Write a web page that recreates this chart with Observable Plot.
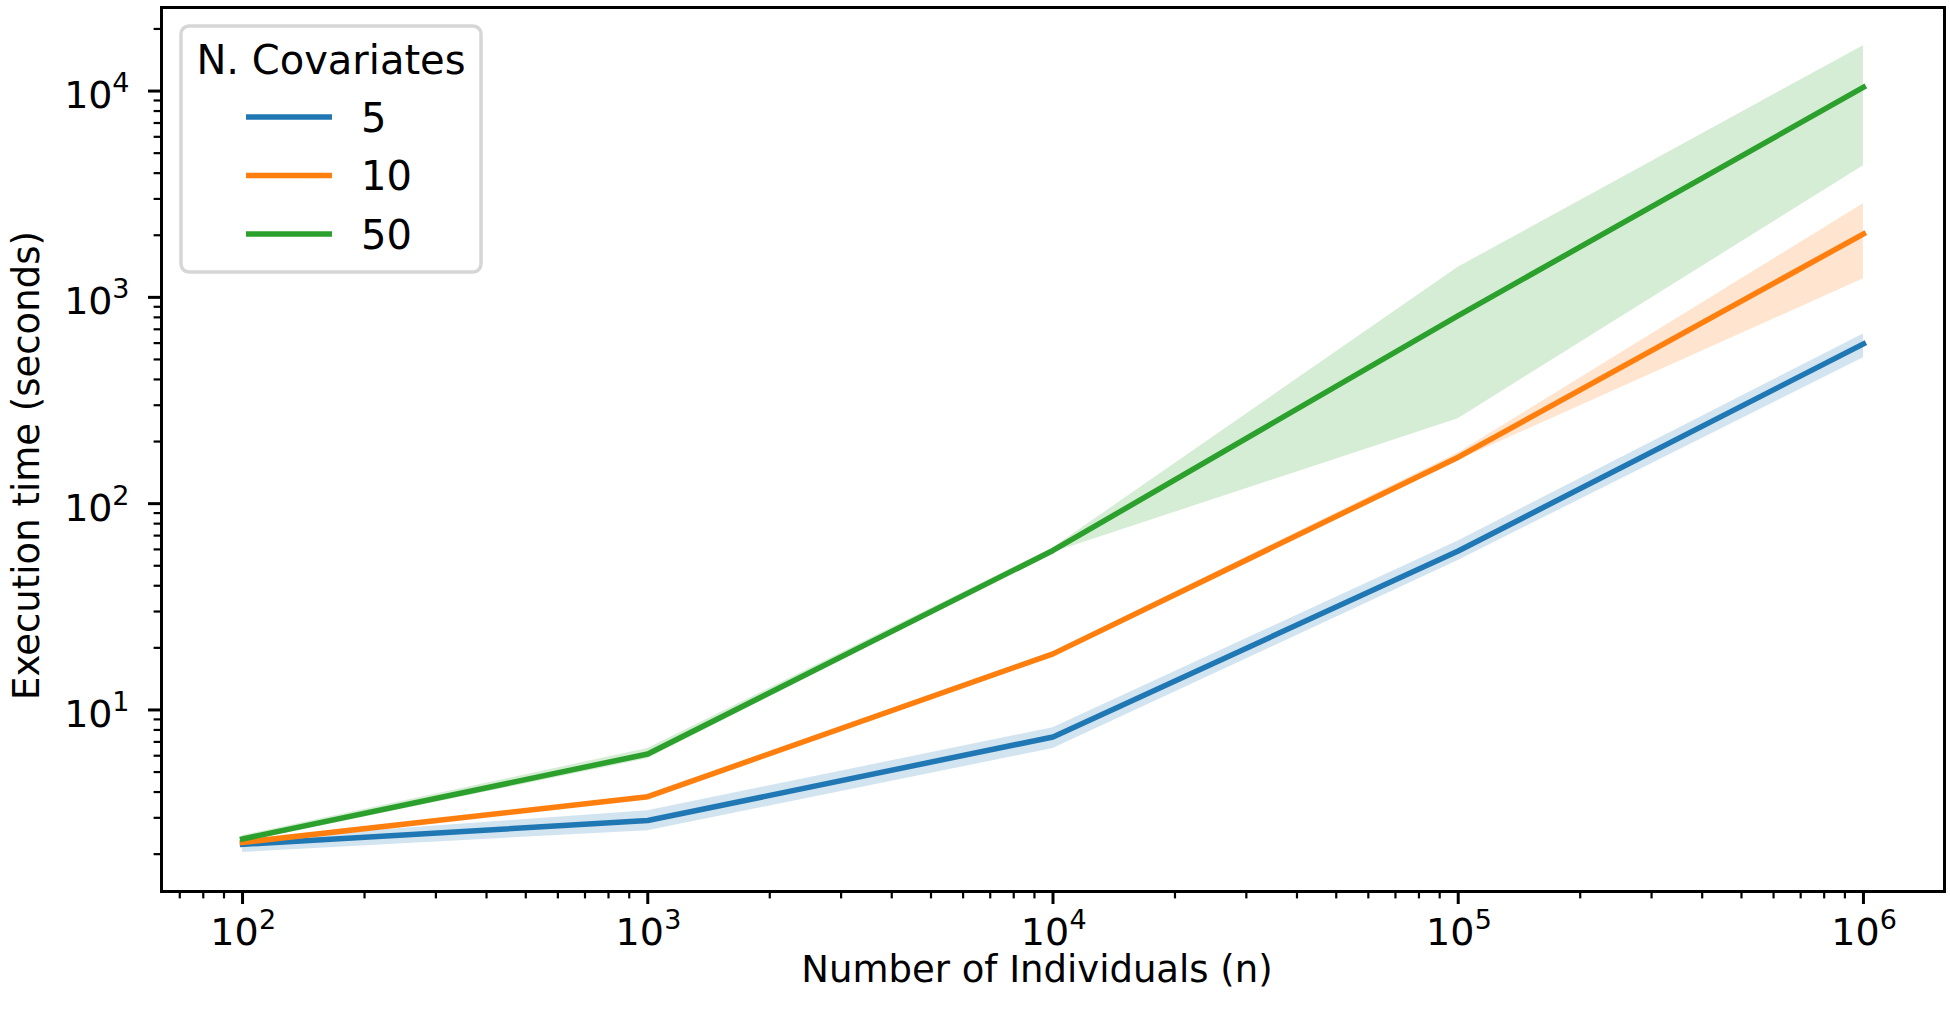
<!DOCTYPE html>
<html>
<head>
<meta charset="utf-8">
<script src="https://cdn.jsdelivr.net/npm/d3@7"></script>
<script src="https://cdn.jsdelivr.net/npm/@observablehq/plot@0.6"></script>
<style>
  html, body { margin: 0; padding: 0; background: #fff; }
  #chart svg { display: block; }
</style>
</head>
<body>
<div id="chart"></div>
<script>
// Execution time (seconds) against the number of individuals, one series per covariate count.
const individuals = [1e2, 1e3, 1e4, 1e5, 1e6];
const covariateGroups = ["5", "10", "50"];
const groupColors = ["#1f77b4", "#ff7f0e", "#2ca02c"];

// mean run time and the shaded interval around it
const time5 = [2.23, 2.91, 7.4, 59, 595];
const time5Low = [2.04, 2.6, 6.5, 53, 510];
const time5High = [2.34, 3.25, 8.2, 66, 665];

const time10 = [2.28, 3.8, 18.7, 168, 2030];
const time10Low = [2.24, 3.74, 18.3, 162, 1230];
const time10High = [2.33, 3.87, 19.1, 176, 2840];

const time50 = [2.37, 6.12, 59.3, 816, 10430];
const time50Low = [2.29, 5.8, 58, 258, 4350];
const time50High = [2.46, 6.5, 61, 1400, 16600];

const xMajorTicks = [1e2, 1e3, 1e4, 1e5, 1e6];
const yMajorTicks = [1e1, 1e2, 1e3, 1e4];
const xDomain = [10 ** 1.8, 10 ** 6.2];
const yDomain = [10 ** 0.12, 10 ** 4.405];

const seriesByGroup = {
  "5": [time5, time5Low, time5High],
  "10": [time10, time10Low, time10High],
  "50": [time50, time50Low, time50High]
};
const rows = covariateGroups.flatMap(g => {
  const [m, lo, hi] = seriesByGroup[g];
  return individuals.map((n, i) => ({n, group: g, mean: m[i], lo: lo[i], hi: hi[i]}));
});

// minor ticks at 2..9 × 10^k inside each domain
const minorTicks = ([a, b]) =>
  d3.range(-1, 8).flatMap(k => d3.range(2, 10).map(m => m * 10 ** k)).filter(v => v >= a && v <= b);
const xMinorTicks = minorTicks(xDomain);
const yMinorTicks = minorTicks(yDomain);

const font = "DejaVu Sans";
const tickFs = 38;
const supFs = 27;
const labelFs = 37;
const legendFs = 40;

const W = 1950, H = 1022;
const mL = 161, mR = 6, mT = 7, mB = 131;

const plot = Plot.plot({
  width: W,
  height: H,
  marginLeft: mL,
  marginRight: mR,
  marginTop: mT,
  marginBottom: mB,
  style: {fontFamily: font, background: "#fff", overflow: "visible"},
  x: {type: "log", domain: xDomain},
  y: {type: "log", domain: yDomain},
  color: {domain: covariateGroups, range: groupColors},
  marks: [
    Plot.areaY(rows, {x: "n", y1: "lo", y2: "hi", z: "group", fill: "group", fillOpacity: 0.2}),
    Plot.lineY(rows, {x: "n", y: "mean", z: "group", stroke: "group", strokeWidth: 5.5,
      strokeLinejoin: "round", strokeLinecap: "square"}),
    Plot.frame({stroke: "#000", strokeWidth: 3}),

    // tick marks
    Plot.axisX(xMajorTicks, {anchor: "bottom", tickSize: 13, strokeWidth: 3, tickFormat: () => "", label: null}),
    Plot.axisX(xMinorTicks, {anchor: "bottom", tickSize: 7.4, strokeWidth: 2.2, tickFormat: () => "", label: null}),
    Plot.axisY(yMajorTicks, {anchor: "left", tickSize: 13, strokeWidth: 3, tickFormat: () => "", label: null}),
    Plot.axisY(yMinorTicks, {anchor: "left", tickSize: 7.4, strokeWidth: 2.2, tickFormat: () => "", label: null}),

    // tick labels drawn as base "10" plus a raised exponent
    Plot.text(xMajorTicks, {x: d => d, frameAnchor: "bottom", text: () => "10", fontSize: tickFs,
      textAnchor: "middle", lineAnchor: "bottom", dx: -8, dy: 53, fill: "#000"}),
    Plot.text(xMajorTicks, {x: d => d, frameAnchor: "bottom", text: d => String(Math.round(Math.log10(d))),
      fontSize: supFs, textAnchor: "middle", lineAnchor: "bottom", dx: 25, dy: 37, fill: "#000"}),
    Plot.text(yMajorTicks, {y: d => d, frameAnchor: "left", text: () => "10", fontSize: tickFs,
      textAnchor: "end", lineAnchor: "bottom", dx: -49, dy: 17, fill: "#000"}),
    Plot.text(yMajorTicks, {y: d => d, frameAnchor: "left", text: d => String(Math.round(Math.log10(d))),
      fontSize: supFs, textAnchor: "end", lineAnchor: "bottom", dx: -32, dy: 1, fill: "#000"}),

    // axis titles
    Plot.text(["Number of Individuals (n)"], {frameAnchor: "bottom", text: d => d, fontSize: labelFs,
      textAnchor: "middle", lineAnchor: "bottom", dx: -16, dy: 90, fill: "#000"}),
    Plot.text(["Execution time (seconds)"], {frameAnchor: "left", text: d => d, fontSize: labelFs,
      textAnchor: "middle", lineAnchor: "bottom", rotate: -90, dx: -123, dy: 16, fill: "#000"})
  ]
});

// legend box in the upper-left corner of the axes
const svg = d3.select(plot);
const lg = svg.append("g").attr("font-family", font).attr("font-size", legendFs).attr("text-anchor", "start");
lg.append("rect")
  .attr("x", 181).attr("y", 26).attr("width", 300).attr("height", 246).attr("rx", 8)
  .attr("fill", "#fff").attr("fill-opacity", 0.8)
  .attr("stroke", "#d6d6d6").attr("stroke-width", 3.5);
lg.append("text").attr("x", 331).attr("y", 74).attr("text-anchor", "middle").attr("fill", "#000")
  .text("N. Covariates");
covariateGroups.forEach((g, i) => {
  const cy = 117 + i * 58.5;
  lg.append("line").attr("x1", 246).attr("x2", 332).attr("y1", cy).attr("y2", cy)
    .attr("stroke", groupColors[i]).attr("stroke-width", 5.5).attr("stroke-linecap", "butt");
  lg.append("text").attr("x", 361).attr("y", cy + 14.5).attr("text-anchor", "start").attr("fill", "#000").text(g);
});

document.getElementById("chart").appendChild(plot);
</script>
</body>
</html>
